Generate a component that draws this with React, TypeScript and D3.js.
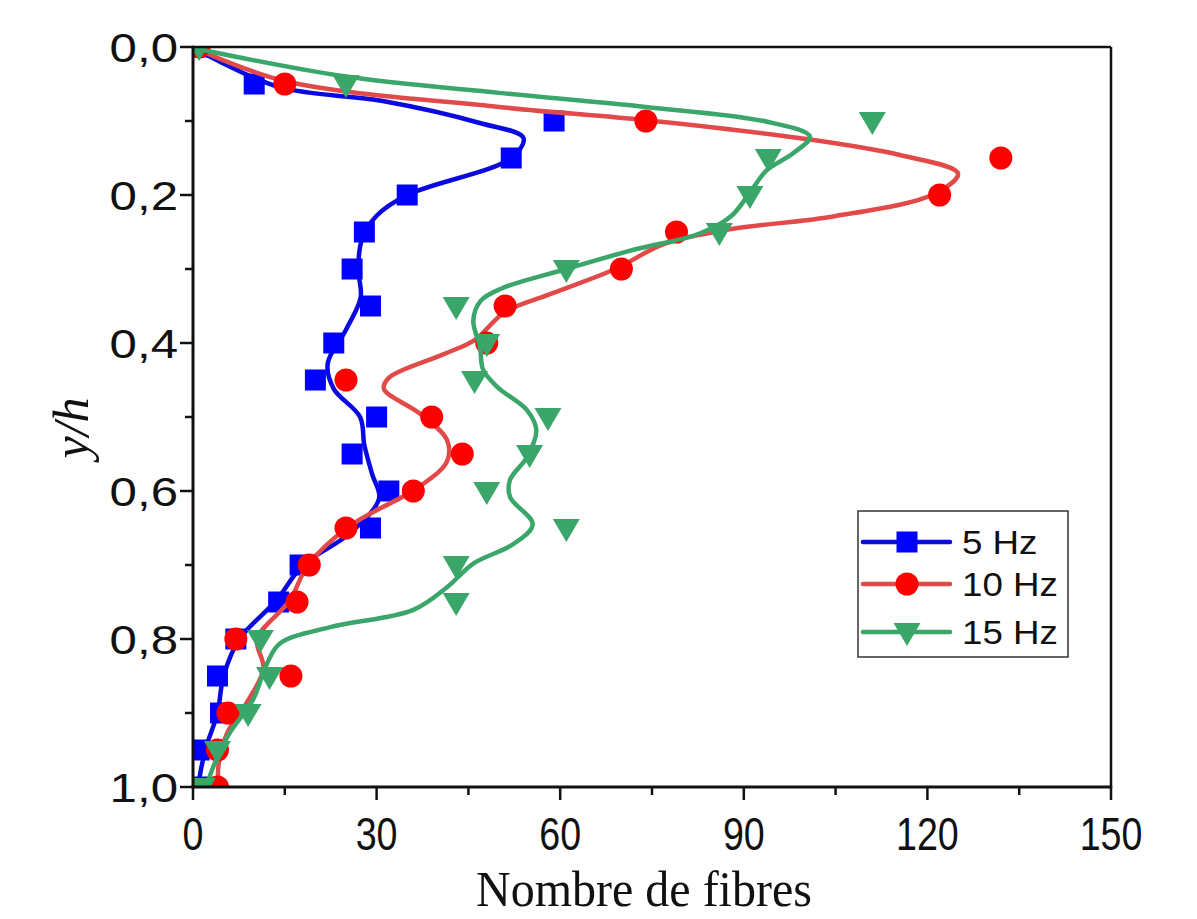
import React from "react";
import * as d3 from "d3";

const yLevels = [0, 0.05, 0.1, 0.15, 0.2, 0.25, 0.3, 0.35, 0.4, 0.45, 0.5, 0.55, 0.6, 0.65, 0.7, 0.75, 0.8, 0.85, 0.9, 0.95, 1.0];
const counts5 = [1, 10, 59, 52, 35, 28, 26, 29, 23, 20, 30, 26, 32, 29, 17.5, 14, 7, 4, 4.5, 1, 1];
const counts10 = [1, 15, 74, 132, 122, 79, 70, 51, 48, 25, 39, 44, 36, 25, 19, 17, 7, 16, 5.7, 4, 4];
const counts15 = [1, 25, 111, 94, 91, 86, 61, 43, 48, 46, 58, 55, 48, 61, 43, 43, 11, 12.5, 9, 4, 1.5];

// smooth fitted curves [count, y/h]
const fit5: [number, number][] = [
  [1, 0.005], [14, 0.054], [31, 0.073], [47, 0.103], [54, 0.123], [52, 0.15], [35, 0.2], [30, 0.228], [27.6, 0.26],
  [27, 0.3], [27.4, 0.338], [25, 0.382], [22, 0.428], [23, 0.462], [27.3, 0.5], [28, 0.538], [29.3, 0.578], [30.4, 0.61],
  [25.5, 0.658], [18, 0.7], [13.6, 0.748], [7.6, 0.8], [5, 0.85], [4, 0.9], [2, 0.95], [0.8, 1.0],
];
const fit10: [number, number][] = [
  [1, 0.004], [15, 0.046], [50, 0.081], [74, 0.099], [99, 0.123], [115.5, 0.146], [125, 0.171], [121, 0.199],
  [104.6, 0.229], [88, 0.246], [77, 0.266], [69, 0.3], [58, 0.335], [51, 0.358], [46, 0.396], [41, 0.415],
  [32, 0.447], [31.2, 0.462], [37, 0.495], [41.5, 0.531], [41.5, 0.56], [37, 0.594], [25.5, 0.648], [18.8, 0.7],
  [15.8, 0.748], [10.5, 0.8], [11.5, 0.84], [8.5, 0.89], [5.6, 0.927], [4.2, 0.968], [4.1, 1.0],
];
const fit15: [number, number][] = [
  [1, 0.003], [25, 0.04], [50, 0.062], [74, 0.081], [93.8, 0.101], [100.8, 0.121], [98, 0.144], [93.8, 0.166],
  [91.3, 0.193], [88, 0.228], [82.8, 0.252], [72, 0.274], [61, 0.3], [50.5, 0.326], [47, 0.343], [45.8, 0.37],
  [46.9, 0.405], [47.4, 0.436], [49.8, 0.46], [54.6, 0.491], [56.1, 0.518], [54.6, 0.554], [51.8, 0.585],
  [51.8, 0.608], [55.5, 0.645], [52.3, 0.672], [45.8, 0.698], [41.5, 0.73], [35.9, 0.761], [22.4, 0.784],
  [14.2, 0.806], [12.1, 0.833], [9.8, 0.882], [6, 0.927], [3.3, 0.973], [2.2, 1.0],
];

const xTicks = [0, 30, 60, 90, 120, 150];
const xMinor = [15, 45, 75, 105, 135];
const yTicks = [0, 0.2, 0.4, 0.6, 0.8, 1.0];
const yMinor = [0.1, 0.3, 0.5, 0.7, 0.9];
const seriesNames = ["5 Hz", "10 Hz", "15 Hz"];

const W = 1197, H = 919;
const L = 193, R = 1111, T = 47, B = 787;

const x = d3.scaleLinear().domain([0, 150]).range([L, R]);
const y = d3.scaleLinear().domain([0, 1]).range([T, B]);

const line = d3.line<[number, number]>()
  .x((d) => x(d[0]))
  .y((d) => y(d[1]))
  .curve(d3.curveCatmullRom.alpha(0.5));

const fmt = (v: number) => v.toFixed(1).replace(".", ",");

type Shape = "square" | "circle" | "tri";
const series = [
  { name: seriesNames[0], counts: counts5, fit: fit5, line: "#0a0ae0", mark: "#0000ff", shape: "square" as Shape },
  { name: seriesNames[1], counts: counts10, fit: fit10, line: "#e24a4a", mark: "#ff0000", shape: "circle" as Shape },
  { name: seriesNames[2], counts: counts15, fit: fit15, line: "#3aa66a", mark: "#3aa66a", shape: "tri" as Shape },
];

function Marker({ cx, cy, shape, color }: { cx: number; cy: number; shape: Shape; color: string }) {
  if (shape === "square") return <rect x={cx - 10.5} y={cy - 10.5} width={21} height={21} fill={color} />;
  if (shape === "circle") return <circle cx={cx} cy={cy} r={11.5} fill={color} />;
  return <path d={`M${cx - 13.5},${cy - 9} L${cx + 13.5},${cy - 9} L${cx},${cy + 14} Z`} fill={color} />;
}

export default function App() {
  return (
    <svg width={W} height={H} style={{ display: "block", position: "absolute", left: 0, top: 0 }}>
      <rect width={W} height={H} fill="#fff" />
      <defs>
        <clipPath id="plot">
          <rect x={L} y={T} width={R - L} height={B - T} />
        </clipPath>
      </defs>
      <g clipPath="url(#plot)">
        {series.map((s) => (
          <g key={s.name}>
            <path d={line(s.fit) || ""} fill="none" stroke={s.line} strokeWidth={4.5} strokeLinejoin="round" strokeLinecap="round" />
            {s.counts.map((c, i) => (
              <Marker key={i} cx={x(c)} cy={y(yLevels[i])} shape={s.shape} color={s.mark} />
            ))}
          </g>
        ))}
      </g>
      {/* frame */}
      <line x1={L} x2={R} y1={T} y2={T} stroke="#111" strokeWidth={2.5} />
      <line x1={R} x2={R} y1={T} y2={B} stroke="#111" strokeWidth={2.5} />
      <line x1={L} x2={L} y1={T - 1.2} y2={B + 1.5} stroke="#111" strokeWidth={3} />
      <line x1={L - 1.5} x2={R + 1.2} y1={B} y2={B} stroke="#111" strokeWidth={3} />
      {/* x ticks */}
      {xTicks.map((t) => (
        <g key={"x" + t}>
          <line x1={x(t)} x2={x(t)} y1={B} y2={B + 13} stroke="#111" strokeWidth={2.5} />
          <text
            transform={`translate(${x(t)},850) scale(0.8,1)`}
            textAnchor="middle"
            fontFamily="Liberation Sans, Arial, sans-serif"
            fontSize={47}
            fill="#111"
          >
            {t}
          </text>
        </g>
      ))}
      {xMinor.map((t) => (
        <line key={"xm" + t} x1={x(t)} x2={x(t)} y1={B} y2={B + 8} stroke="#111" strokeWidth={2.5} />
      ))}
      {/* y ticks */}
      {yTicks.map((t) => (
        <g key={"y" + t}>
          <line x1={L - 13} x2={L} y1={y(t)} y2={y(t)} stroke="#111" strokeWidth={2.5} />
          <text
            transform={`translate(178,${y(t) + 14.5}) scale(1.2,1)`}
            textAnchor="end"
            fontFamily="Liberation Sans, Arial, sans-serif"
            fontSize={41}
            fill="#111"
          >
            {fmt(t)}
          </text>
        </g>
      ))}
      {yMinor.map((t) => (
        <line key={"ym" + t} x1={L - 8} x2={L} y1={y(t)} y2={y(t)} stroke="#111" strokeWidth={2.5} />
      ))}
      {/* axis titles */}
      <text
        transform="translate(644,906) scale(1,1.06)"
        textAnchor="middle"
        fontFamily="Liberation Serif, Times New Roman, serif"
        fontSize={48}
        fill="#111"
      >
        Nombre de fibres
      </text>
      <text
        transform="translate(88,428) rotate(-90)"
        textAnchor="middle"
        fontFamily="Liberation Serif, Times New Roman, serif"
        fontStyle="italic"
        fontSize={50}
        fill="#111"
      >
        y/h
      </text>
      {/* legend */}
      <rect x={858} y={511} width={210} height={146} fill="#fff" stroke="#333" strokeWidth={1.5} />
      {series.map((s, i) => {
        const ly = [542, 584, 632][i];
        return (
          <g key={"lg" + s.name}>
            <line x1={863} x2={950} y1={ly} y2={ly} stroke={s.line} strokeWidth={4.5} strokeLinecap="round" />
            <Marker cx={907} cy={ly} shape={s.shape} color={s.mark} />
            <text
              transform={`translate(962,${ly + 12}) scale(1.08,1)`}
              fontFamily="Liberation Sans, Arial, sans-serif"
              fontSize={34}
              fill="#111"
            >
              {s.name}
            </text>
          </g>
        );
      })}
    </svg>
  );
}
